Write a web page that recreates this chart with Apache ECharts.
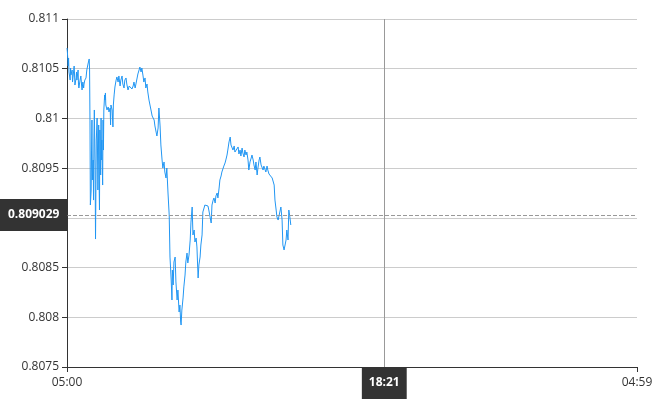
<!DOCTYPE html>
<html>
<head>
<meta charset="utf-8">
<script src="https://cdn.jsdelivr.net/npm/echarts@6/dist/echarts.min.js"></script>
<style>html,body{margin:0;padding:0;background:#fff}#c{width:670px;height:400px}</style>
</head>
<body>
<div id="c"></div>
<script>
// minutes after 05:00
var minutes = [0,1,3,4,5,8,9,10,13,14,15,18,19,20,23,24,25,28,29,30,33,35,37,38,40,42,43,45,48,50,53,56,57,58,59,61,62,63,64,66,67,68,69,71,72,73,74,76,77,78,80,81,82,83,85,86,87,88,90,91,92,93,95,96,97,98,101,104,106,109,110,111,114,116,117,119,121,124,126,129,131,134,136,139,141,144,146,149,151,154,157,159,162,164,167,169,172,174,177,179,182,184,187,189,192,194,197,199,202,204,207,210,212,215,217,220,222,225,227,230,232,235,237,240,242,245,247,250,252,255,258,260,263,265,266,268,270,273,275,278,280,283,285,287,288,290,293,295,298,300,303,305,308,311,313,316,318,321,323,326,328,331,333,336,338,341,343,346,348,351,353,356,358,361,364,366,369,371,374,376,379,381,384,386,389,391,394,396,399,401,404,406,409,412,414,417,419,422,424,427,429,432,434,437,439,442,444,447,449,452,454,457,459,462,465,467,470,472,475,477,480,482,485,487,490,492,495,497,500,502,505,507,510,512,515,518,520,523,525,528,530,533,535,538,540,543,545,548,550,553,555,558,560,563,565];
var prices = [0.810708,0.810668,0.810527,0.810608,0.810467,0.810386,0.810507,0.810437,0.810487,0.810366,0.810407,0.810527,0.810447,0.810336,0.810407,0.810467,0.810386,0.810487,0.810346,0.810306,0.810386,0.810427,0.810326,0.810286,0.810366,0.810306,0.810346,0.810386,0.810407,0.810487,0.810547,0.810598,0.810487,0.809984,0.809129,0.809280,0.809682,0.809984,0.809381,0.809582,0.809179,0.809783,0.810085,0.809481,0.808787,0.809280,0.809783,0.810004,0.809682,0.809280,0.809934,0.809381,0.809079,0.809884,0.809431,0.810004,0.809582,0.809783,0.809330,0.809984,0.809682,0.810085,0.810236,0.810185,0.810256,0.810135,0.810085,0.810115,0.810065,0.810105,0.809934,0.810135,0.810085,0.809914,0.810135,0.810236,0.810316,0.810386,0.810417,0.810366,0.810427,0.810326,0.810386,0.810427,0.810346,0.810306,0.810386,0.810407,0.810346,0.810286,0.810326,0.810306,0.810346,0.810296,0.810326,0.810366,0.810306,0.810346,0.810326,0.810447,0.810487,0.810517,0.810467,0.810507,0.810427,0.810366,0.810407,0.810306,0.810346,0.810266,0.810185,0.810125,0.810085,0.810024,0.810044,0.809984,0.809924,0.809863,0.809823,0.809904,0.810105,0.809924,0.809733,0.809582,0.809501,0.809562,0.809461,0.809401,0.809501,0.809250,0.809029,0.808606,0.808375,0.808174,0.808475,0.808325,0.808556,0.808606,0.808355,0.808174,0.808274,0.808053,0.808123,0.807952,0.807922,0.808073,0.808194,0.808305,0.808425,0.808556,0.808646,0.808546,0.808626,0.808777,0.808958,0.809109,0.808828,0.808878,0.808757,0.808797,0.808707,0.808395,0.808526,0.808606,0.808727,0.808828,0.809059,0.809099,0.809129,0.809109,0.809139,0.809119,0.809079,0.809099,0.808948,0.809129,0.809179,0.809200,0.809149,0.809220,0.809250,0.809200,0.809300,0.809381,0.809421,0.809461,0.809481,0.809521,0.809552,0.809582,0.809632,0.809682,0.809763,0.809813,0.809733,0.809713,0.809682,0.809723,0.809662,0.809682,0.809652,0.809713,0.809642,0.809682,0.809622,0.809702,0.809652,0.809612,0.809682,0.809632,0.809662,0.809582,0.809481,0.809562,0.809602,0.809632,0.809582,0.809532,0.809481,0.809562,0.809431,0.809501,0.809582,0.809612,0.809532,0.809552,0.809481,0.809521,0.809501,0.809461,0.809521,0.809481,0.809441,0.809461,0.809431,0.809401,0.809421,0.809330,0.809179,0.809079,0.809009,0.808978,0.808998,0.808958,0.809109,0.808978,0.808727,0.808677,0.808697,0.808777,0.808878,0.808777,0.809079,0.808998,0.808928];
var startHour = 5;
var crossMinute = 801;      // 18:21
var crossPrice = 0.809029;
var yMin = 0.8075, yMax = 0.811, yStep = 0.0005;

function fmtTime(m) {
  m = Math.round(m);
  var h = (startHour + Math.floor(m / 60)) % 24;
  var mm = m % 60;
  return (h < 10 ? '0' : '') + h + ':' + (mm < 10 ? '0' : '') + mm;
}

var data = minutes.map(function (m, i) { return [m, prices[i]]; });
var font = '"Open Sans", "Noto Sans", sans-serif';

var chart = echarts.init(document.getElementById('c'), null, { renderer: 'canvas' });
chart.setOption({
  animation: false,
  grid: { left: 67, right: 33, top: 19, bottom: 33 },
  tooltip: { show: false },
  axisPointer: { triggerOn: 'none' },
  xAxis: {
    type: 'value',
    min: 0,
    max: 1439,
    interval: 1439,
    axisLine: { lineStyle: { color: '#333', width: 1 } },
    axisTick: { show: true, length: 5, lineStyle: { color: '#333' } },
    axisLabel: { color: '#333', fontSize: 12, fontFamily: font, margin: 10, formatter: fmtTime },
    splitLine: { show: false },
    axisPointer: {
      show: true, status: 'show', value: crossMinute, type: 'line',
      lineStyle: { color: '#999', width: 1, type: 'solid' },
      label: {
        show: true, formatter: function (p) { return fmtTime(p.value); },
        backgroundColor: '#333', color: '#fff', fontFamily: font, fontSize: 12, fontWeight: 'bold',
        padding: [10, 7, 10, 7], margin: 0, borderRadius: 0, shadowBlur: 0
      }
    }
  },
  yAxis: {
    type: 'value',
    min: yMin,
    max: yMax,
    interval: yStep,
    axisLine: { show: true, lineStyle: { color: '#333', width: 1 } },
    axisTick: { show: true, length: 5, lineStyle: { color: '#333' } },
    axisLabel: { color: '#333', fontSize: 12, fontFamily: font, margin: 8 },
    splitLine: { show: true, lineStyle: { color: '#ccc', width: 1 } },
    axisPointer: {
      show: true, status: 'show', value: crossPrice, type: 'line',
      lineStyle: { color: '#999', width: 1, type: 'dashed' },
      label: {
        show: true, formatter: function (p) { return Number(p.value).toFixed(6); },
        backgroundColor: '#333', color: '#fff', fontFamily: font, fontSize: 12, fontWeight: 'bold',
        padding: [10, 8, 10, 8], margin: 0, borderRadius: 0, shadowBlur: 0
      }
    }
  },
  series: [{
    type: 'line',
    data: data,
    showSymbol: false,
    symbol: 'none',
    lineStyle: { color: '#2196F3', width: 1 },
    itemStyle: { color: '#2196F3' }
  }]
});
</script>
</body>
</html>
